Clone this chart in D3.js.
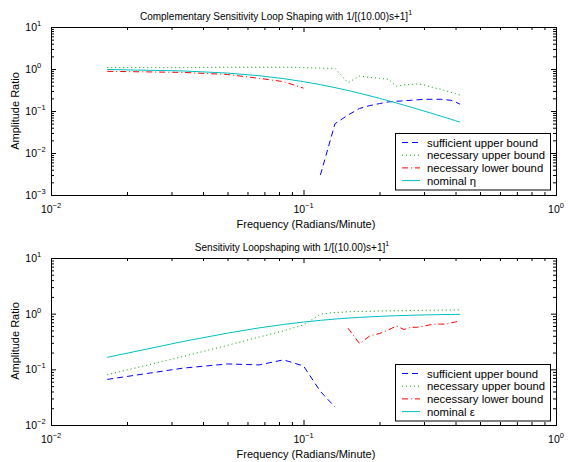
<!DOCTYPE html>
<html>
<head>
<meta charset="utf-8">
<script src="https://cdn.jsdelivr.net/npm/d3@7"></script>
<style>
body { margin: 0; background: #fff; }
text { font-family: "Liberation Sans", Arial, Helvetica, sans-serif; fill: #000; }
</style>
</head>
<body>
<svg id="chart" width="568" height="462"></svg>
<script>
// frequencies (radians/minute)
var freq = [0.0167, 0.0333, 0.05, 0.0667, 0.0833, 0.1, 0.1167, 0.1333, 0.15, 0.1667,
            0.1833, 0.2, 0.2167, 0.2333, 0.25, 0.2667, 0.2833, 0.3, 0.3167, 0.3333,
            0.35, 0.3667, 0.3833, 0.4, 0.4167];

// complementary sensitivity (top)
var topSufficientUpper = [null, null, null, null, null, null, 0.003, 0.05, 0.08, 0.115,
                          0.135, 0.15, 0.165, 0.17, 0.175, 0.18, 0.185, 0.19, 0.19, 0.19,
                          0.19, 0.185, 0.18, 0.165, 0.145];
var topNecessaryUpper = [1.08, 1.08, 1.1, 1.1, 1.1, 1.08, 1.05, 1.03, 0.47, 0.68,
                         0.63, 0.6, 0.57, 0.39, 0.42, 0.43, 0.44, 0.42, 0.38, 0.35,
                         0.33, 0.3, 0.28, 0.26, 0.24];
var topNecessaryLower = [0.88, 0.83, 0.74, 0.6, 0.5, 0.35, null, null, null, null,
                         null, null, null, null, null, null, null, null, null, null,
                         null, null, null, null, null];
var topNominal = [0.973, 0.9, 0.8, 0.692, 0.59, 0.5, 0.424, 0.36, 0.308, 0.265,
                  0.229, 0.2, 0.176, 0.155, 0.138, 0.123, 0.111, 0.1, 0.0907, 0.0826,
                  0.0755, 0.0692, 0.0637, 0.0588, 0.0545];

// sensitivity (bottom)
var botSufficientUpper = [0.066, 0.105, 0.125, 0.12, 0.148, 0.115, 0.04, 0.021, null, null,
                          null, null, null, null, null, null, null, null, null, null,
                          null, null, null, null, null];
var botNecessaryUpper = [0.08, 0.17, 0.27, 0.38, 0.49, 0.63, 0.98, 1.05, 1.08, 1.1,
                         1.1, 1.12, 1.12, 1.13, 1.13, 1.14, 1.14, 1.15, 1.15, 1.15,
                         1.16, 1.16, 1.16, 1.17, 1.17];
var botNecessaryLower = [null, null, null, null, null, null, null, null, 0.55, 0.29,
                         0.4, 0.44, 0.51, 0.6, 0.52, 0.57, 0.57, 0.6, 0.63, 0.65,
                         0.65, 0.65, 0.68, 0.71, 0.74];
var botNominal = [0.164, 0.316, 0.447, 0.555, 0.64, 0.707, 0.759, 0.8, 0.832, 0.857,
                  0.878, 0.894, 0.908, 0.919, 0.928, 0.936, 0.943, 0.949, 0.954, 0.958,
                  0.962, 0.965, 0.968, 0.97, 0.972];

var topLegend = ["sufficient upper bound", "necessary upper bound", "necessary lower bound", "nominal \u03b7"];
var botLegend = ["sufficient upper bound", "necessary upper bound", "necessary lower bound", "nominal \u03b5"];

var xMajor = [0.01, 0.1, 1];
var xTickExps = ["\u22122", "\u22121", "0"];
var topYMajor = [10, 1, 0.1, 0.01, 0.001];
var topYTickExps = ["1", "0", "\u22121", "\u22122", "\u22123"];
var botYMajor = [10, 1, 0.1, 0.01];
var botYTickExps = ["1", "0", "\u22121", "\u22122"];

var lineStyles = [
    { color: "#0000ff", dash: "6,4" },
    { color: "#00a000", dash: "1,3" },
    { color: "#ff0000", dash: "6,3,1,3" },
    { color: "#00bfbf", dash: null }
];

var svg = d3.select("#chart");
var x = d3.scaleLog().domain([0.01, 1]).range([51, 556]);

function drawPanel (opts) {
    var y = d3.scaleLog().domain(opts.yDomain).range([opts.bottom, opts.top]);
    var g = svg.append("g");

    // ticks, inside on all four sides
    var xMinor = x.ticks().filter(function (t) { return xMajor.indexOf(t) < 0; });
    var yMinor = y.ticks().filter(function (t) { return opts.yMajor.indexOf(t) < 0; });

    function tickGroup (axis, transform) {
        var a = g.append("g").attr("transform", transform).call(axis);
        a.select(".domain").remove();
        a.selectAll("line").attr("stroke", "#000").attr("stroke-width", 1);
        return a;
    }
    tickGroup(d3.axisBottom(x).tickValues(xMajor).tickSize(-5).tickFormat(""), "translate(0," + opts.bottom + ")");
    tickGroup(d3.axisBottom(x).tickValues(xMinor).tickSize(-3).tickFormat(""), "translate(0," + opts.bottom + ")");
    tickGroup(d3.axisTop(x).tickValues(xMajor).tickSize(-5).tickFormat(""), "translate(0," + opts.top + ")");
    tickGroup(d3.axisTop(x).tickValues(xMinor).tickSize(-3).tickFormat(""), "translate(0," + opts.top + ")");
    tickGroup(d3.axisLeft(y).tickValues(opts.yMajor).tickSize(-5).tickFormat(""), "translate(51,0)");
    tickGroup(d3.axisLeft(y).tickValues(yMinor).tickSize(-3).tickFormat(""), "translate(51,0)");
    tickGroup(d3.axisRight(y).tickValues(opts.yMajor).tickSize(-5).tickFormat(""), "translate(556,0)");
    tickGroup(d3.axisRight(y).tickValues(yMinor).tickSize(-3).tickFormat(""), "translate(556,0)");

    g.append("rect")
        .attr("x", 51.5).attr("y", opts.top + 0.5)
        .attr("width", 505).attr("height", opts.bottom - opts.top)
        .attr("fill", "none").attr("stroke", "#000").attr("stroke-width", 1);

    // x tick labels
    var xl = g.selectAll(".xlab").data(xMajor).enter().append("text")
        .attr("class", "xlab")
        .attr("x", function (d) { return x(d); })
        .attr("y", opts.bottom + 18)
        .attr("text-anchor", "middle")
        .attr("font-size", 10.5);
    xl.append("tspan").text("10");
    xl.append("tspan").attr("dy", -5).attr("font-size", 7.5)
        .text(function (d, i) { return xTickExps[i]; });

    // y tick labels
    g.selectAll(".ylab").data(opts.yMajor).enter().append("text")
        .attr("class", "ylab")
        .attr("x", 37).attr("y", function (d) { return y(d) + 4; })
        .attr("text-anchor", "end").attr("font-size", 10.5)
        .text("10");
    g.selectAll(".yexp").data(opts.yMajor).enter().append("text")
        .attr("class", "yexp")
        .attr("x", 37).attr("y", function (d) { return y(d) - 1; })
        .attr("font-size", 7.5)
        .text(function (d, i) { return opts.yExps[i]; });

    // axis labels and title
    g.append("text")
        .attr("x", 306).attr("y", opts.bottom + 33)
        .attr("text-anchor", "middle").attr("font-size", 11)
        .text("Frequency (Radians/Minute)");
    g.append("text")
        .attr("transform", "translate(19," + opts.yLabelCenter + ") rotate(-90)")
        .attr("text-anchor", "middle").attr("font-size", 11)
        .text("Amplitude Ratio");
    var t = g.append("text")
        .attr("x", opts.titleX).attr("y", opts.top - 7)
        .attr("text-anchor", "middle").attr("font-size", 10);
    t.append("tspan").text(opts.title);
    t.append("tspan").attr("dy", -5).attr("font-size", 7).text("1");

    // data lines
    var line = d3.line()
        .defined(function (d) { return d[1] != null; })
        .x(function (d) { return x(d[0]); })
        .y(function (d) { return y(d[1]); });

    opts.series.forEach(function (values, i) {
        g.append("path")
            .datum(d3.zip(freq, values))
            .attr("d", line)
            .attr("fill", "none")
            .attr("stroke", lineStyles[i].color)
            .attr("stroke-width", 1)
            .attr("stroke-dasharray", lineStyles[i].dash);
    });

    // legend
    var lg = g.append("g").attr("transform", "translate(395," + opts.legendTop + ")");
    lg.append("rect")
        .attr("x", 0.5).attr("y", 0.5).attr("width", 155).attr("height", 56.5)
        .attr("fill", "#fff").attr("stroke", "#000").attr("stroke-width", 1);
    opts.legend.forEach(function (label, i) {
        var ly = 9.5 + i * 12.7;
        lg.append("line")
            .attr("x1", 7).attr("x2", 25).attr("y1", ly).attr("y2", ly)
            .attr("stroke", lineStyles[i].color).attr("stroke-width", 1)
            .attr("stroke-dasharray", lineStyles[i].dash);
        lg.append("text")
            .attr("x", 32).attr("y", ly + 4)
            .attr("font-size", 11.3)
            .text(label);
    });
}

drawPanel({
    top: 27, bottom: 195, yDomain: [0.001, 10],
    yMajor: topYMajor, yExps: topYTickExps,
    title: "Complementary Sensitivity Loop Shaping with 1/[(10.00)s+1]", titleX: 276,
    yLabelCenter: 111, legendTop: 133, legend: topLegend,
    series: [topSufficientUpper, topNecessaryUpper, topNecessaryLower, topNominal]
});

drawPanel({
    top: 258, bottom: 425, yDomain: [0.01, 10],
    yMajor: botYMajor, yExps: botYTickExps,
    title: "Sensitivity Loopshaping with 1/[(10.00)s+1]", titleX: 292,
    yLabelCenter: 341, legendTop: 364, legend: botLegend,
    series: [botSufficientUpper, botNecessaryUpper, botNecessaryLower, botNominal]
});
</script>
</body>
</html>
